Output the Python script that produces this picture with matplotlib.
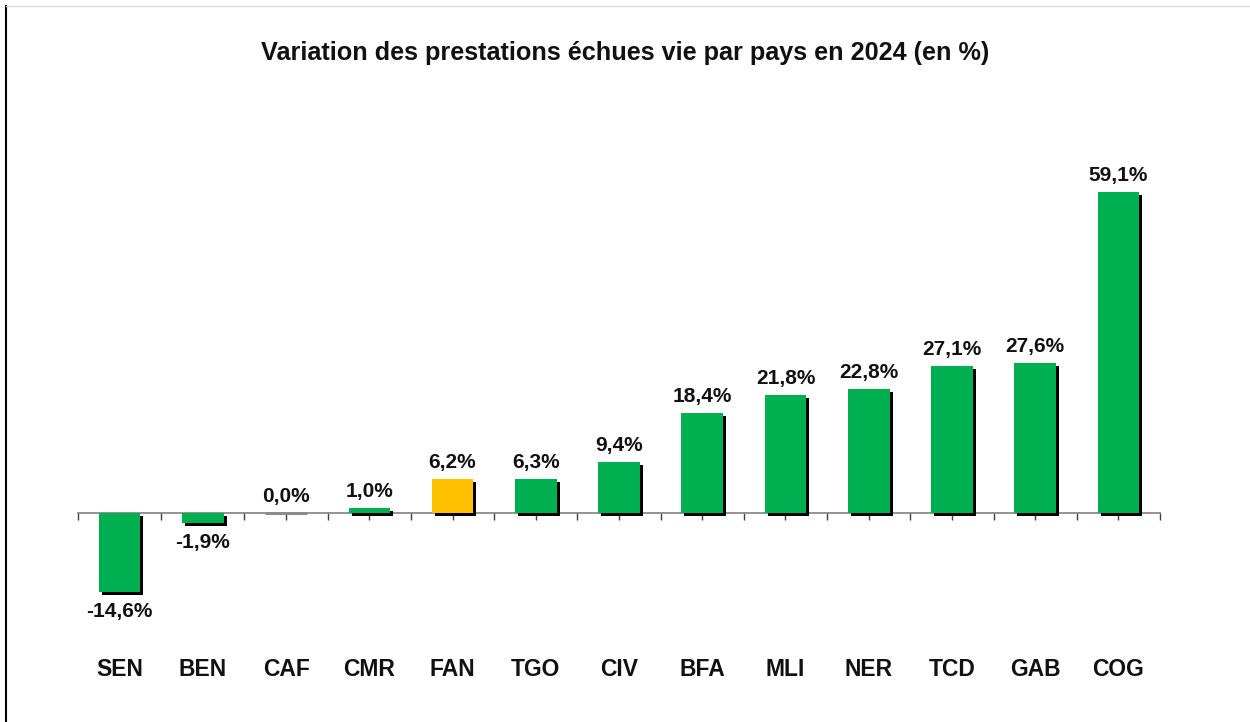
import matplotlib
matplotlib.use("Agg")
import matplotlib.pyplot as plt
import matplotlib.patheffects as pe
import matplotlib.transforms as mtransforms
from matplotlib.lines import Line2D

countries = ["SEN", "BEN", "CAF", "CMR", "FAN", "TGO", "CIV", "BFA", "MLI", "NER", "TCD", "GAB", "COG"]
values = [-14.6, -1.9, 0.0, 1.0, 6.2, 6.3, 9.4, 18.4, 21.8, 22.8, 27.1, 27.6, 59.1]
labels = ["-14,6%", "-1,9%", "0,0%", "1,0%", "6,2%", "6,3%", "9,4%", "18,4%", "21,8%", "22,8%", "27,1%", "27,6%", "59,1%"]
highlight = "FAN"
title = "Variation des prestations échues vie par pays en 2024 (en %)"

plt.rcParams['font.family'] = ['Liberation Sans', 'DejaVu Sans']

W, H = 1250, 722
fig = plt.figure(figsize=(W / 100, H / 100), dpi=100)

# axes placement: x from 78 to 1160 px; zero at y=513 px (from top), 5.43 px per unit
ymin, ymax = -30, 70
ppu = 5.43
zero_from_bottom = H - 513
bottom_px = zero_from_bottom + ymin * ppu
top_px = zero_from_bottom + ymax * ppu
ax = fig.add_axes([78 / W, bottom_px / H, (1160 - 78) / W, (top_px - bottom_px) / H])
ax.set_xlim(-0.5, len(countries) - 0.5)
ax.set_ylim(ymin, ymax)

bar_w = 0.5
colors = ["#FFC000" if c == highlight else "#00B050" for c in countries]
x = list(range(len(countries)))
shadow = [pe.SimplePatchShadow(offset=(2.2, -2.2), shadow_rgbFace="black", alpha=1.0), pe.Normal()]
bars = ax.bar(x, values, width=bar_w, color=colors, zorder=3)
for b, v in zip(bars, values):
    b.set_path_effects(shadow)
for xi, v in zip(x, values):
    if v == 0:
        ax.hlines(v, xi - bar_w / 2, xi + bar_w / 2, colors="#8c8c8c", linewidth=2.2, zorder=4)

for xi, v, lab in zip(x, values, labels):
    if v >= 0:
        ax.annotate(lab, (xi, v), xytext=(0, 5), textcoords="offset points",
                    ha="center", va="bottom", fontsize=15, fontweight="bold", color="#111111")
    else:
        ax.annotate(lab, (xi, v), xytext=(0, -7), textcoords="offset points",
                    ha="center", va="top", fontsize=15, fontweight="bold", color="#111111")

for s in ["top", "right", "left"]:
    ax.spines[s].set_visible(False)
ax.spines["bottom"].set_position(("data", 0))
ax.spines["bottom"].set_color("#808080")
ax.spines["bottom"].set_linewidth(1.2)
ax.spines["bottom"].set_zorder(2)
ax.set_yticks([])
ax.set_xticks([i - 0.5 for i in range(len(countries) + 1)])
ax.set_xticks(x, minor=True)
ax.tick_params(axis="x", which="both", direction="out", length=5, width=1, color="#404040", labelbottom=False)

trans = mtransforms.blended_transform_factory(ax.transData, fig.transFigure)
for xi, c in zip(x, countries):
    ax.text(xi, (H - 669) / H, c, transform=trans, ha="center", va="center",
            fontsize=16.5, fontweight="bold", color="#111111")

fig.text(625 / W, (H - 53) / H, title, ha="center", va="center", fontsize=18.2, fontweight="bold", color="#111111")

# frame lines
fig.add_artist(Line2D([6 / W, 6 / W], [0, (H - 6) / H], color="black", lw=1.5, transform=fig.transFigure))
fig.add_artist(Line2D([6 / W, 1], [(H - 6) / H, (H - 6) / H], color="#d9d9d9", lw=1, transform=fig.transFigure))

fig.savefig("out.png", dpi=100, facecolor="white")
